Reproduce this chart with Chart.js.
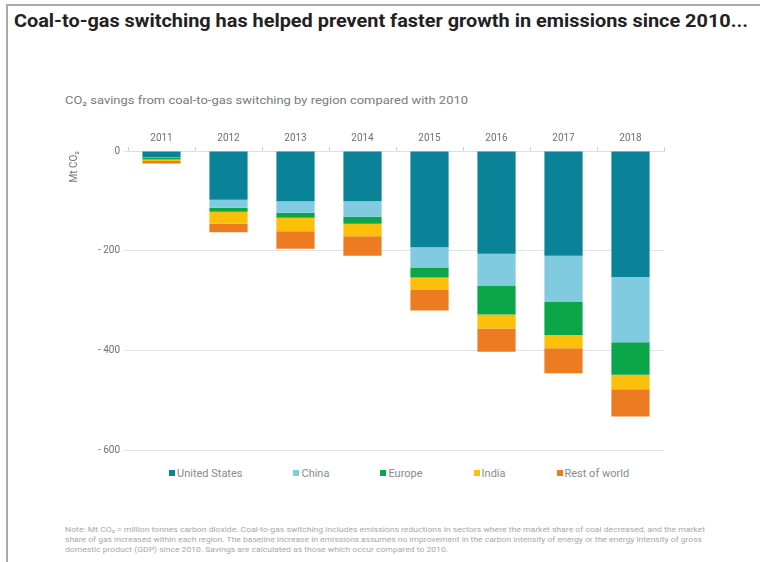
<!DOCTYPE html>
<html>
<head>
<meta charset="utf-8">
<script src="https://cdn.jsdelivr.net/npm/chart.js@4.4.0/dist/chart.umd.min.js"></script>
<style>
body { margin: 0; width: 760px; height: 562px; overflow: hidden; background: #fff; font-family: Roboto, sans-serif; position: relative; }
.frame { position: absolute; left: 6px; top: 4px; width: 780px; height: 600px; border-left: 2px solid #aaa; border-top: 2px solid #aaa; }
.fit { position: absolute; white-space: nowrap; transform-origin: 0 0; }
#title { left: 14px; top: 11px; font-size: 18px; font-weight: 700; color: #222; line-height: 20px; }
#sub { left: 65px; top: 93px; font-size: 11.5px; color: #7a7a7a; line-height: 14px; }
.note { left: 65px; font-size: 7.5px; color: #a8a8a8; line-height: 10px; }
#wrap { position: absolute; left: 60px; top: 120px; width: 620px; height: 340px; }
#legend { position: absolute; left: 169px; top: 467px; display: flex; gap: 51px; font-size: 11px; color: #8a8a8a; line-height: 14px; }
#legend span.box { display: inline-block; width: 6px; height: 6px; margin-right: 2px; vertical-align: 1px; }
</style>
</head>
<body>
<div class="frame"></div>
<div id="title" class="fit" data-w="734">Coal-to-gas switching has helped prevent faster growth in emissions since 2010...</div>
<div id="sub" class="fit" data-w="403">CO₂ savings from coal-to-gas switching by region compared with 2010</div>
<div id="wrap"><canvas id="chart1"></canvas></div>
<div id="legend"></div>
<div class="note fit" style="top:525px" data-w="640">Note: Mt CO₂ = million tonnes carbon dioxide. Coal-to-gas switching includes emissions reductions in sectors where the market share of coal decreased, and the market</div>
<div class="note fit" style="top:535px" data-w="637">share of gas increased within each region. The baseline increase in emissions assumes no improvement in the carbon intensity of energy or the energy intensity of gross</div>
<div class="note fit" style="top:545px" data-w="383">domestic product (GDP) since 2010. Savings are calculated as those which occur compared to 2010.</div>

<script>
// data (Mt CO2, compared with 2010)
const years = ['2011', '2012', '2013', '2014', '2015', '2016', '2017', '2018'];
const unitedStates = [-13, -98, -101, -101, -193, -206, -210, -253];
const china = [-1, -16, -23, -31, -41, -64, -93, -131];
const europe = [-3, -8, -10, -14, -20, -58, -66, -65];
const india = [-3, -24, -27, -25, -25, -28, -27, -29];
const restOfWorld = [-5, -17, -35, -39, -41, -47, -50, -55];
const yTickValues = [0, -200, -400, -600];

// squeeze the html text to the widths seen in the picture
document.querySelectorAll('.fit').forEach(function (el) {
    const w = el.getBoundingClientRect().width;
    el.style.transform = 'scaleX(' + (Number(el.dataset.w) / w) + ')';
});

function bar(label, data, color) {
    return {
        label: label,
        data: data,
        backgroundColor: color,
        borderWidth: 0,
        barPercentage: 0.57,
        categoryPercentage: 1
    };
}

const ctx1 = document.getElementById('chart1').getContext('2d');
const chart1 = new Chart(ctx1, {
    type: 'bar',
    data: {
        labels: years,
        datasets: [
            bar('United States', unitedStates, '#0a8398'),
            bar('China', china, '#80cbe0'),
            bar('Europe', europe, '#0ba64a'),
            bar('India', india, '#fcbf0a'),
            bar('Rest of world', restOfWorld, '#ec7b21')
        ]
    },
    options: {
        responsive: true,
        maintainAspectRatio: false,
        animation: false,
        layout: { padding: { top: 0, right: 16, bottom: 10, left: 0 } },
        plugins: {
            legend: { display: false },
            tooltip: { enabled: false }
        },
        scales: {
            x: {
                position: 'top',
                stacked: true,
                offset: true,
                grid: { drawOnChartArea: false, drawTicks: true, tickLength: 4, color: '#cfcfcf' },
                border: { color: '#dedede' },
                ticks: { color: '#707070', font: { family: 'Roboto', size: 10 }, padding: 3, maxRotation: 0 },
                afterFit: function (s) { s.height = 31; }
            },
            y: {
                stacked: true,
                min: -600,
                max: 0,
                afterBuildTicks: function (s) {
                    s.ticks = yTickValues.map(function (v) { return { value: v }; });
                },
                grid: { color: '#e2e2e2', tickLength: 4 },
                border: { display: false },
                ticks: {
                    color: '#707070',
                    font: { family: 'Roboto', size: 10 },
                    padding: 4,
                    callback: function (v) { return v === 0 ? '0' : '- ' + Math.abs(v); }
                },
                title: {
                    display: true,
                    text: 'Mt CO₂',
                    align: 'end',
                    color: '#777',
                    font: { family: 'Roboto', size: 10 },
                    padding: { top: 8, bottom: 0 }
                },
                afterFit: function (s) { s.width = 68; }
            }
        }
    }
});

// legend built from the chart's own datasets
const legend = document.getElementById('legend');
chart1.data.datasets.forEach(function (ds) {
    const item = document.createElement('div');
    item.innerHTML = '<span class="box" style="background:' + ds.backgroundColor + '"></span>' + ds.label;
    legend.appendChild(item);
});
</script>
</body>
</html>
